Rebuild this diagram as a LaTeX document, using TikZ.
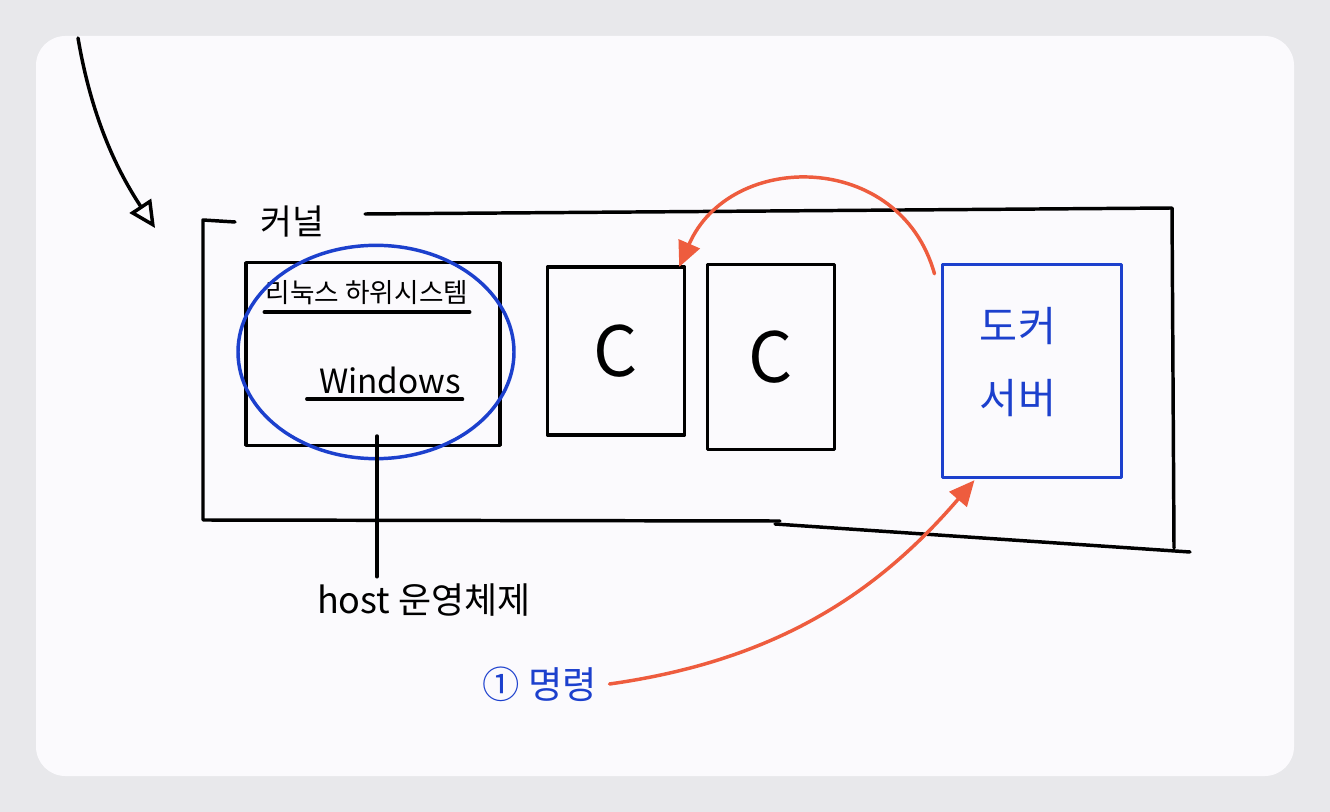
\documentclass[tikz,border=0pt]{standalone}
\usepackage{fontspec}
\setmainfont{Noto Sans CJK KR}
\usetikzlibrary{arrows.meta, positioning}
\definecolor{penblue}{RGB}{28, 64, 205}
\definecolor{penred}{RGB}{238, 92, 62}
\definecolor{cardwhite}{RGB}{251, 250, 253}
\definecolor{framegray}{RGB}{232, 232, 235}

\begin{document}
\begin{tikzpicture}[
                x=0.75pt, y=-0.75pt,
                pen/.style={line width=2.6pt, line cap=round, line join=round},
                box/.style={pen, draw=black, rectangle, inner sep=0pt, outer sep=0pt},
                bluebox/.style={box, draw=penblue},
                hand/.style={font=\fontsize{26}{30}\selectfont, inner sep=1pt},
                bluehand/.style={hand, text=penblue},
                redarrow/.style={pen, draw=penred, -{Triangle[length=19pt, width=17pt]}}
            ]
                % card on grey frame
                \fill[framegray] (0,0) rectangle (1330,812);
                \useasboundingbox (0,0) rectangle (1330,812);
                \fill[cardwhite, rounded corners=22pt] (36,36) rectangle (1294,776);

                % kernel outline
                \draw[pen] (235,222) -- (203,220) -- (203,520) -- (780,521);
                \draw[pen] (775,524) -- (1190,552);
                \draw[pen] (365,214) -- (1172,208) -- (1174,548);
                \node [hand] (kernel) at (292,222) {커널};

                % boxes inside the kernel
                \node [box, minimum width=190.5pt, minimum height=137pt] (linux) at (373,354) {};
                \node [box, minimum width=102.8pt, minimum height=126pt] (cone) at (616,351) {};
                \node [box, minimum width=95.3pt, minimum height=138.8pt] (ctwo) at (771,357) {};
                \node [bluebox, minimum width=134.3pt, minimum height=159.8pt] (docker) at (1032,371) {};

                \node [hand, font=\fontsize{20}{24}\selectfont] (subsys) at (367,293) {리눅스 하위시스템};
                \node [hand, font=\fontsize{25}{30}\selectfont] (windows) at (390,380) {Windows};
                \draw[pen] ([yshift=-4pt]subsys.south west) -- ([yshift=-4pt]subsys.south east);
                \draw[pen] ([xshift=-8pt, yshift=-3pt]windows.south west) -- ([yshift=-3pt]windows.south east);
                \node [font=\fontsize{52}{52}\selectfont] (cone label) at (cone) {C};
                \node [font=\fontsize{52}{52}\selectfont] (ctwo label) at (ctwo) {C};
                \node [bluehand, font=\fontsize{31}{54}\selectfont, align=center] (docker label) at (1018,362) {도커\\서버};

                % blue ring round the subsystem
                \draw[pen, penblue] (376,352) ellipse [x radius=103.5pt, y radius=80pt];

                % host OS
                \node [hand, font=\fontsize{27}{30}\selectfont] (host) at (424,600) {host 운영체제};
                \draw[pen] ([xshift=3pt, yshift=7pt]linux.south) -- ([xshift=3pt, yshift=4pt]linux.south |- host.north);

                % command
                \node [bluehand, font=\fontsize{28}{30}\selectfont] (command) at (540,684) {① 명령};

                % arrows
                \coordinate (arrowstart) at (78,38);
                \coordinate (arrowtip) at (155,228);
                \draw[pen, -{Triangle[open, length=20pt, width=19pt]}] (arrowstart) .. controls (92,120) and (118,172) .. (arrowtip);
                \draw[redarrow] ([xshift=-6pt, yshift=-7pt]docker.north west) .. controls (900,150) and (730,150) .. ([xshift=-4pt]cone.north east);
                \draw[redarrow] ([xshift=8pt]command.east) .. controls (780,660) and (880,590) .. ([xshift=24pt, yshift=-2pt]docker.south west);
            \end{tikzpicture}
\end{document}
